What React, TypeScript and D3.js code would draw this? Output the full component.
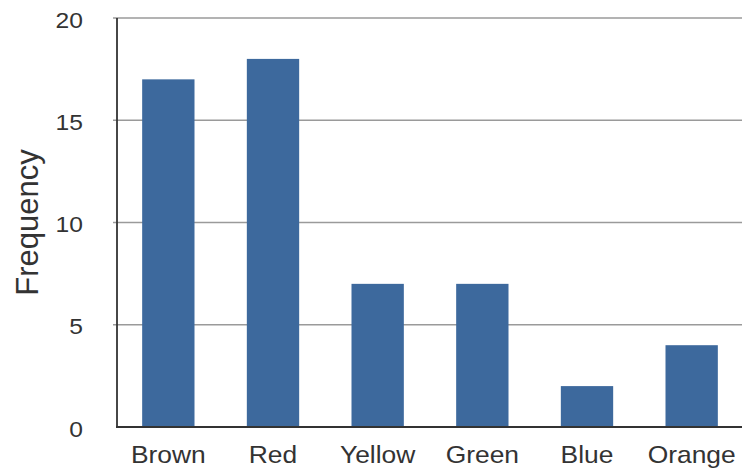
import React from "react";
import * as d3 from "d3";

const categories = ["Brown", "Red", "Yellow", "Green", "Blue", "Orange"];
const frequencies = [17, 18, 7, 7, 2, 4];
const yTicks = [0, 5, 10, 15, 20];
const yLabel = "Frequency";

export default function App() {
  const W = 742, H = 469;
  const x = d3.scaleBand<string>().domain(categories).range([116, 744]).paddingInner(0.5).paddingOuter(0.25);
  const y = d3.scaleLinear().domain([0, 20]).range([427, 18]);
  const font = "'Liberation Sans', Arial, Helvetica, sans-serif";
  return (
    <svg width={W} height={H} style={{ position: "absolute", left: 0, top: 0, background: "#fff" }}>
      {yTicks.map((t) => (
        <g key={t}>
          {t > 0 && <line x1={113} x2={742} y1={y(t)} y2={y(t)} stroke="#9a9a9a" strokeWidth={1.3} />}
          <text x={83} y={y(t) + 2} dy="0.35em" textAnchor="end" fontFamily={font} fontSize={22} fill="#333"
            transform={`translate(83,0) scale(1.12,1) translate(-83,0)`}>{t}</text>
        </g>
      ))}
      {categories.map((c, i) => (
        <rect key={c} x={x(c)!} width={x.bandwidth()} y={y(frequencies[i])} height={y(0) - y(frequencies[i])} fill="#3d699d" />
      ))}
      <line x1={117} x2={117} y1={y(20)} y2={y(0)} stroke="#333" strokeWidth={1.8} />
      <line x1={116} x2={742} y1={y(0)} y2={y(0)} stroke="#333" strokeWidth={1.8} />
      {categories.map((c) => {
        const cx = x(c)! + x.bandwidth() / 2;
        return (
          <text key={c} x={cx} y={463} textAnchor="middle" fontFamily={font} fontSize={24} fill="#333"
            transform={`translate(${cx},0) scale(1.1,1) translate(${-cx},0)`}>{c}</text>
        );
      })}
      <text transform={`translate(38,${(y(0) + y(20)) / 2}) rotate(-90)`} textAnchor="middle" fontFamily={font} fontSize={31} fill="#333">{yLabel}</text>
    </svg>
  );
}
